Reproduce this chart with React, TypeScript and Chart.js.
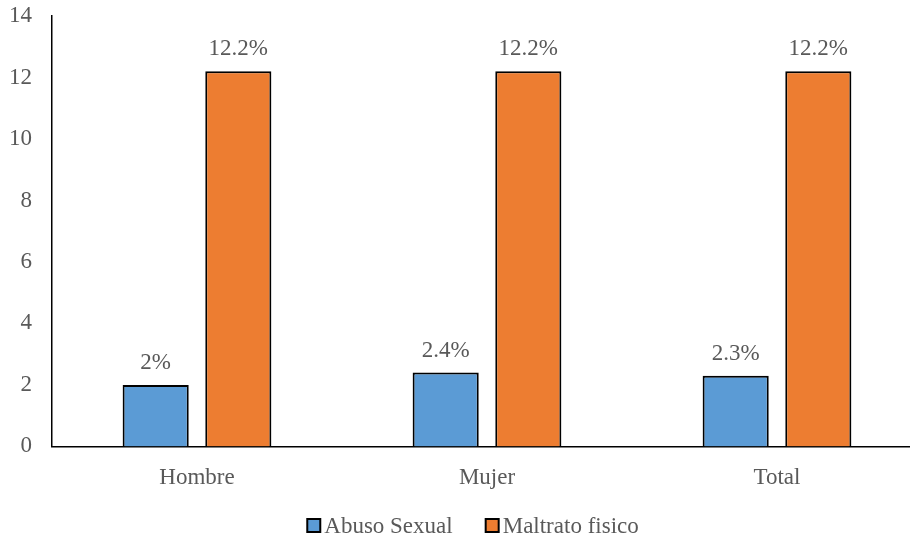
import React, { useEffect, useRef } from "react";
import { Chart, registerables } from "chart.js";

Chart.register(...registerables);

const categories = ["Hombre", "Mujer", "Total"];
const abusoSexual = [2, 2.4, 2.3];
const maltratoFisico = [12.2, 12.2, 12.2];
const seriesNames = ["Abuso Sexual", "Maltrato fisico"];
const seriesColors = ["#5B9BD5", "#ED7D31"];

const FONT = "'Liberation Serif', 'Times New Roman', serif";
const TEXT = "#595959";

const dataLabels = {
  id: "dataLabels",
  afterDatasetsDraw(chart: any) {
    const ctx = chart.ctx;
    ctx.save();
    ctx.font = `23px ${FONT}`;
    ctx.fillStyle = TEXT;
    ctx.textAlign = "center";
    ctx.textBaseline = "alphabetic";
    chart.data.datasets.forEach((ds: any, i: number) => {
      const meta = chart.getDatasetMeta(i);
      meta.data.forEach((bar: any, j: number) => {
        ctx.fillText(String(ds.data[j]) + "%", bar.x, bar.y - 16);
      });
    });
    ctx.restore();
  },
};

const customLegend = {
  id: "customLegend",
  afterDraw(chart: any) {
    const ctx = chart.ctx;
    ctx.save();
    ctx.font = `23px ${FONT}`;
    const box = 13;
    const gap = 4;
    const spacing = 33;
    const widths = chart.data.datasets.map((ds: any) => ctx.measureText(ds.label).width);
    let total = 0;
    widths.forEach((w: number, i: number) => {
      total += box + gap + w + (i > 0 ? spacing : 0);
    });
    const center = (chart.chartArea.left + chart.chartArea.right) / 2 - 14;
    let x = center - total / 2;
    const baseline = chart.height - 6;
    chart.data.datasets.forEach((ds: any, i: number) => {
      ctx.fillStyle = ds.backgroundColor;
      ctx.fillRect(x, baseline - 14, box, box);
      ctx.strokeStyle = "#000000";
      ctx.lineWidth = 2;
      ctx.strokeRect(x, baseline - 14, box, box);
      ctx.fillStyle = TEXT;
      ctx.textAlign = "left";
      ctx.textBaseline = "alphabetic";
      ctx.fillText(ds.label, x + box + gap, baseline);
      x += box + gap + widths[i] + spacing;
    });
    ctx.restore();
  },
};

export default function App() {
  const ref = useRef<HTMLCanvasElement>(null);
  useEffect(() => {
    if (!ref.current) return;
    const chart = new Chart(ref.current, {
      type: "bar",
      data: {
        labels: categories,
        datasets: [
          {
            label: seriesNames[0],
            data: abusoSexual,
            backgroundColor: seriesColors[0],
            borderColor: "#000000",
            borderWidth: 2,
            categoryPercentage: 0.57,
            barPercentage: 0.8,
          },
          {
            label: seriesNames[1],
            data: maltratoFisico,
            backgroundColor: seriesColors[1],
            borderColor: "#000000",
            borderWidth: 2,
            categoryPercentage: 0.57,
            barPercentage: 0.8,
          },
        ],
      },
      options: {
        responsive: false,
        animation: false,
        layout: { padding: { top: 0, right: 4, left: 0, bottom: 29 } },
        scales: {
          x: {
            grid: { display: false, drawTicks: false },
            border: { color: "#000000", width: 1.5 },
            ticks: { color: TEXT, font: { family: FONT, size: 23 }, padding: 18 },
          },
          y: {
            min: 0,
            max: 14,
            grid: { display: false, drawTicks: false },
            border: { color: "#000000", width: 1.5 },
            ticks: { stepSize: 2, color: TEXT, font: { family: FONT, size: 23 }, padding: 20 },
            afterFit(scale: any) {
              scale.width = 52;
              scale.paddingTop = 16;
              scale.paddingBottom = 0;
            },
          },
        },
        plugins: {
          legend: { display: false },
          tooltip: { enabled: false },
        },
      },
      plugins: [dataLabels, customLegend],
    });
    return () => chart.destroy();
  }, []);
  return (
    <div style={{ position: "fixed", left: 0, top: 0, width: 910, height: 539, overflow: "hidden", background: "#fff" }}>
      <canvas ref={ref} width={926} height={539} style={{ display: "block" }} />
    </div>
  );
}
